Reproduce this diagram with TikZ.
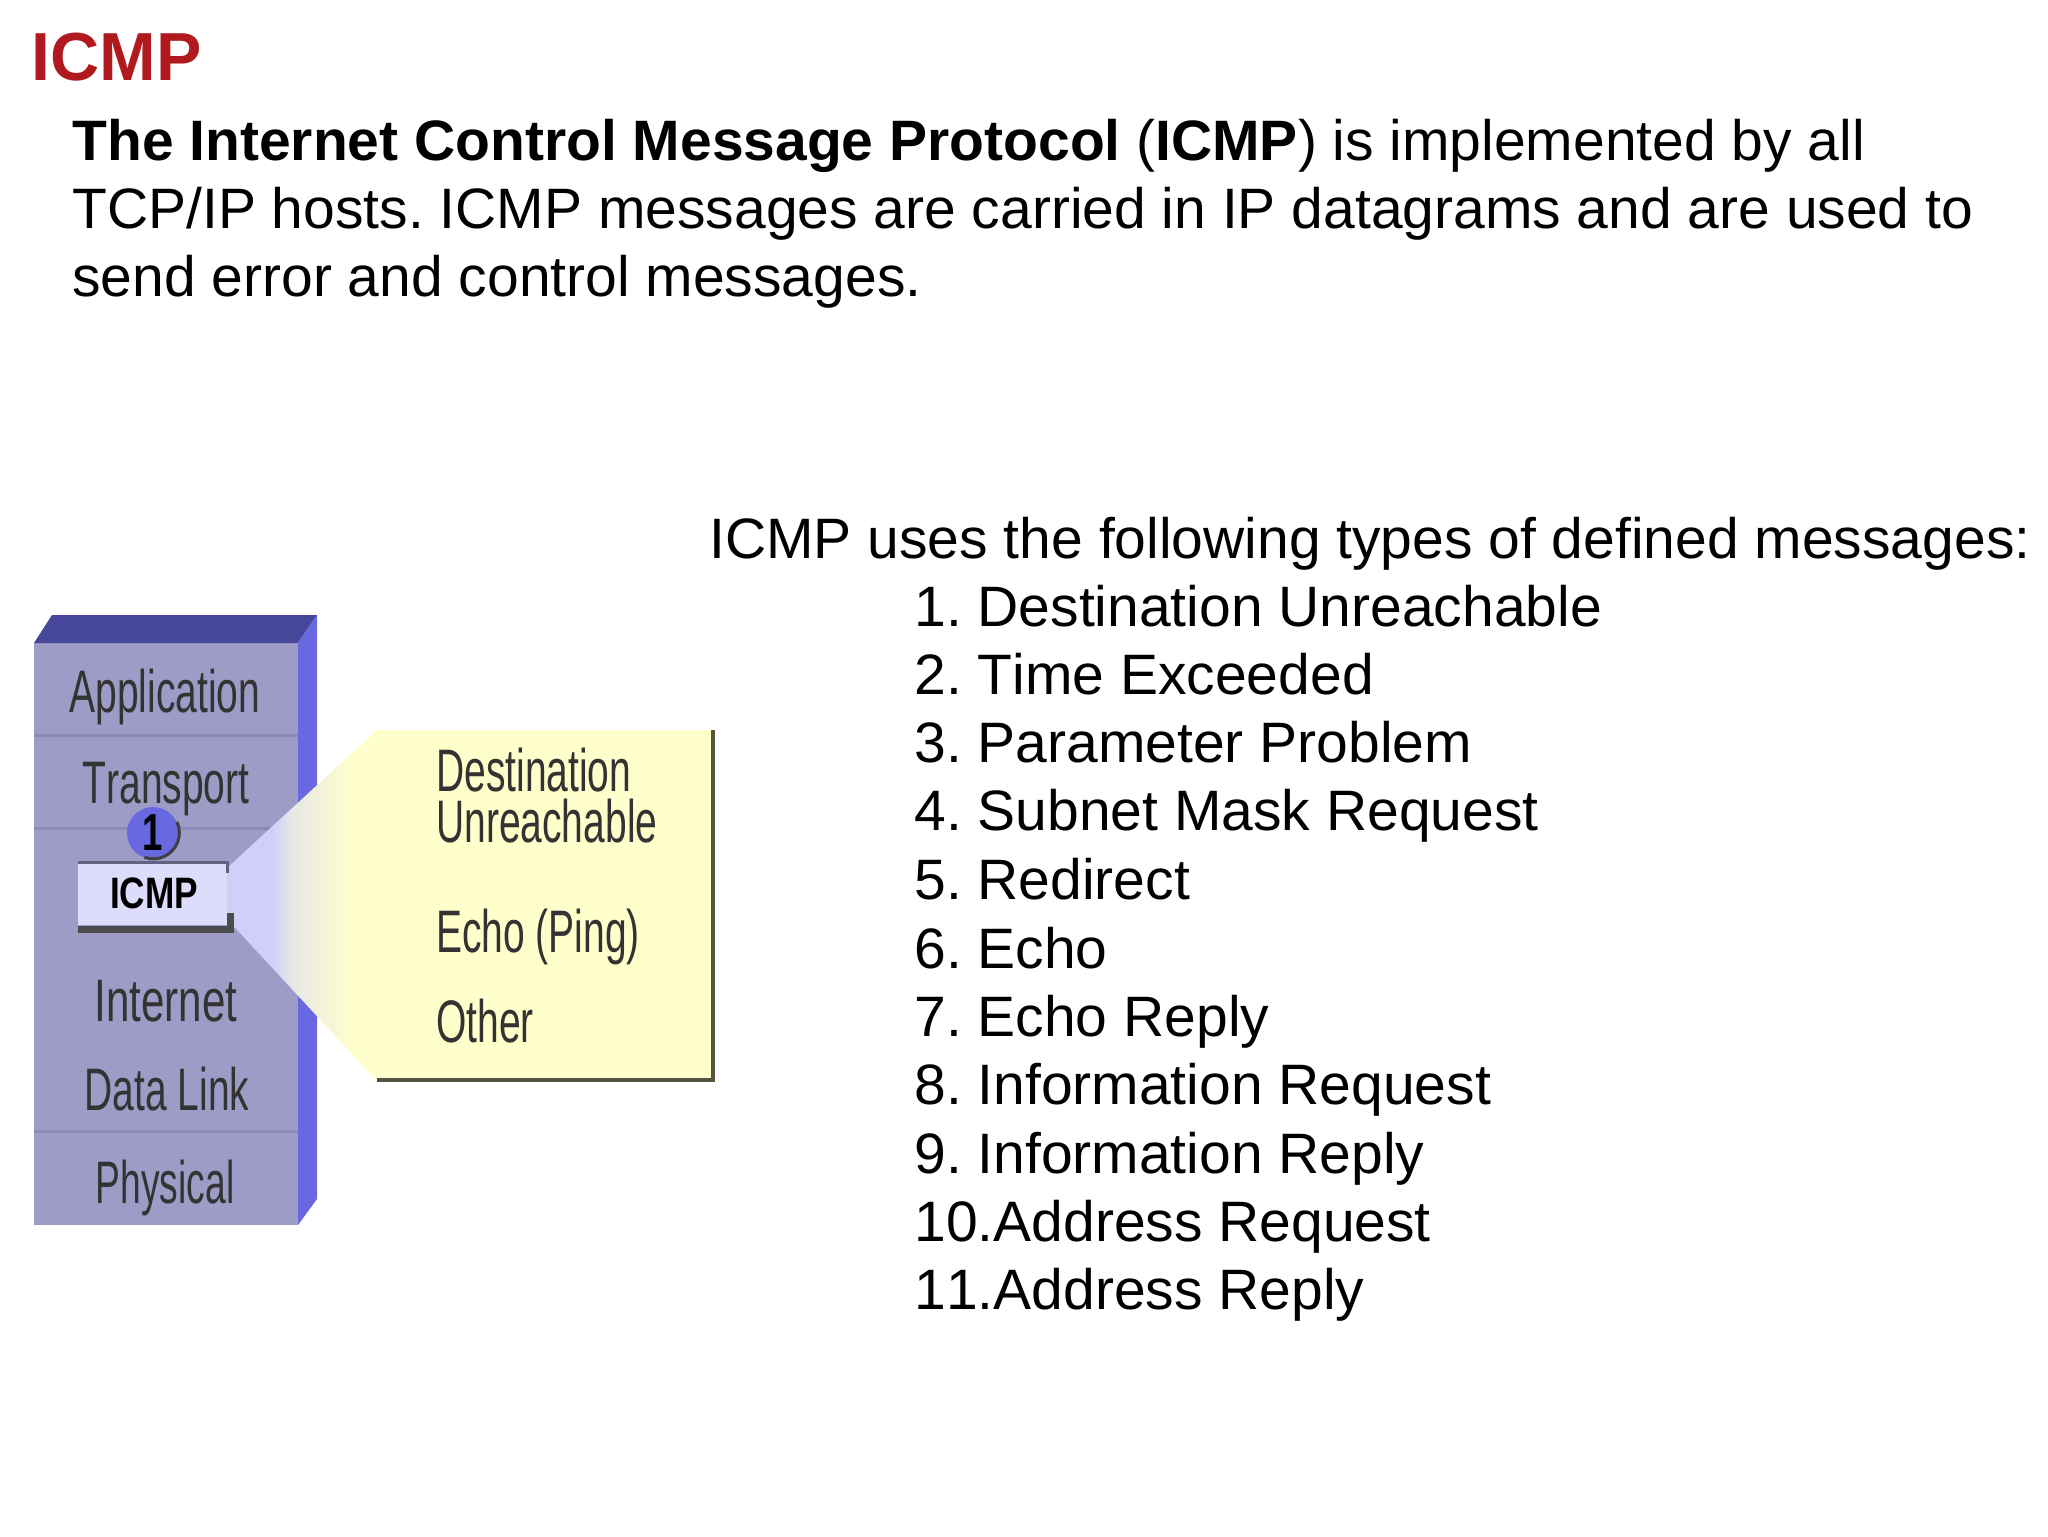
\documentclass[tikz,border=0pt]{standalone}
\usepackage{fontspec}
\setmainfont[Kerning=Off]{Liberation Sans}
\definecolor{titlered}{HTML}{B01A1E}
\definecolor{stackfront}{HTML}{9C9CC6}
\definecolor{stacktop}{HTML}{46469A}
\definecolor{stackside}{HTML}{6868E0}
\definecolor{stackline}{HTML}{8A8AB8}
\definecolor{calloutyellow}{HTML}{FFFFCC}
\definecolor{calloutlav}{HTML}{CFCFFA}
\definecolor{calloutgrey}{HTML}{E8E8E4}
\definecolor{calloutedge}{HTML}{55553F}
\pgfdeclarehorizontalshading{calloutfade}{100bp}{color(0bp)=(calloutlav); color(40bp)=(calloutlav); color(47bp)=(calloutgrey); color(68bp)=(calloutyellow); color(100bp)=(calloutyellow)}
\frenchspacing
\begin{document}
\begin{tikzpicture}
[x=0.5pt,y=-0.5pt,
  bodytext/.style={anchor=base west,inner sep=0pt,font=\fontsize{28.5}{34}\selectfont},%
  titletext/.style={anchor=base west,inner sep=0pt,text=titlered,font=\fontsize{34}{40}\selectfont\bfseries},%
  layerlabel/.style={anchor=base,inner sep=0pt,transform shape,xscale=.65,text=black!80,font=\fontsize{30}{34}\selectfont},%
  popuplabel/.style={anchor=base west,inner sep=0pt,transform shape,xscale=.65,text=black!80,font=\fontsize{30}{34}\selectfont}]
\useasboundingbox (0,0) rectangle (2048,1536);
% title and paragraph
\node (title) at (31,81) [titletext] {ICMP};
\node (para1) at (72,160) [bodytext] {\textbf{The Internet Control Message Protocol} (\textbf{ICMP}) is implemented by all};
\node (para2) at (72,228) [bodytext] {TCP/IP hosts. ICMP messages are carried in IP datagrams and are used to};
\node (para3) at (72,296) [bodytext] {send error and control messages.};
% list of messages
\node (intro) at (709,558) [bodytext] {ICMP uses the following types of defined messages:};
\node (msg1) at (914,626) [bodytext] {1. Destination Unreachable};
\node (msg2) at (914,694) [bodytext] {2. Time Exceeded};
\node (msg3) at (914,762) [bodytext] {3. Parameter Problem};
\node (msg4) at (914,830) [bodytext] {4. Subnet Mask Request};
\node (msg5) at (914,899) [bodytext] {5. Redirect};
\node (msg6) at (914,968) [bodytext] {6. Echo};
\node (msg7) at (914,1036) [bodytext] {7. Echo Reply};
\node (msg8) at (914,1104) [bodytext] {8. Information Request};
\node (msg9) at (914,1173) [bodytext] {9. Information Reply};
\node (msg10) at (914,1241) [bodytext] {10.Address Request};
\node (msg11) at (914,1309) [bodytext] {11.Address Reply};
% layer stack
\fill[stackfront] (34,643) rectangle (298,1225);
\fill[stacktop] (34,643) -- (52,615) -- (317,615) -- (298,643) -- cycle;
\fill[stackside] (298,643) -- (317,615) -- (317,1199) -- (298,1225) -- cycle;
\draw[stackline,line width=1.5pt] (34,735) -- (298,735);
\draw[stackline,line width=1.5pt] (34,828) -- (298,828);
\draw[stackline,line width=1.5pt] (34,1131) -- (298,1131);
% badge
\node (badge) at (153,833) [circle,fill=stackside,minimum size=26pt,inner sep=0pt,font=\fontsize{26}{30}\selectfont\bfseries] {\scalebox{.7}[1]{1}};
\draw[black!75,line width=1.5pt] (badge.25) arc (25:-110:13pt);
% callout
\shade[shading=calloutfade] (227,868) -- (377,730) -- (377,1081) -- (227,919) -- cycle;
\fill[calloutyellow] (377,730) rectangle (712,1079);
\draw[calloutedge,line width=2pt] (713,730) -- (713,1080) -- (377,1080);
% icmp box
\node (icmpbox) at (152.5,894) [rectangle,fill=calloutlav!70!white,minimum width=74.5pt,minimum height=31pt,inner sep=0pt] {};
\draw[stackline!70!black,line width=1.5pt] (icmpbox.north west) -- (icmpbox.north east) -- ++(0,10);
\draw[black!70,line width=3.5pt] (icmpbox.south west) ++(0,4) -- ++(153,0) -- ++(0,-16);
% labels
\node (application) at (165,712) [layerlabel] {Application};
\node (transport) at (166,803) [layerlabel] {Transport};
\node (icmp) at (154,908) [anchor=base,inner sep=0pt,transform shape,xscale=.8,font=\fontsize{22}{26}\selectfont\bfseries] {ICMP};
\node (internet) at (166,1021) [layerlabel,xscale=1.08] {Internet};
\node (datalink) at (167,1110) [layerlabel] {Data Link};
\node (physical) at (165,1203) [layerlabel,xscale=.955] {Physical};
\node (dest) at (436,791) [popuplabel] {Destination};
\node (unreach) at (436,842) [popuplabel] {Unreachable};
\node (echo) at (436,952) [popuplabel] {Echo (Ping)};
\node (other) at (436,1042) [popuplabel] {Other};
\end{tikzpicture}
\end{document}
